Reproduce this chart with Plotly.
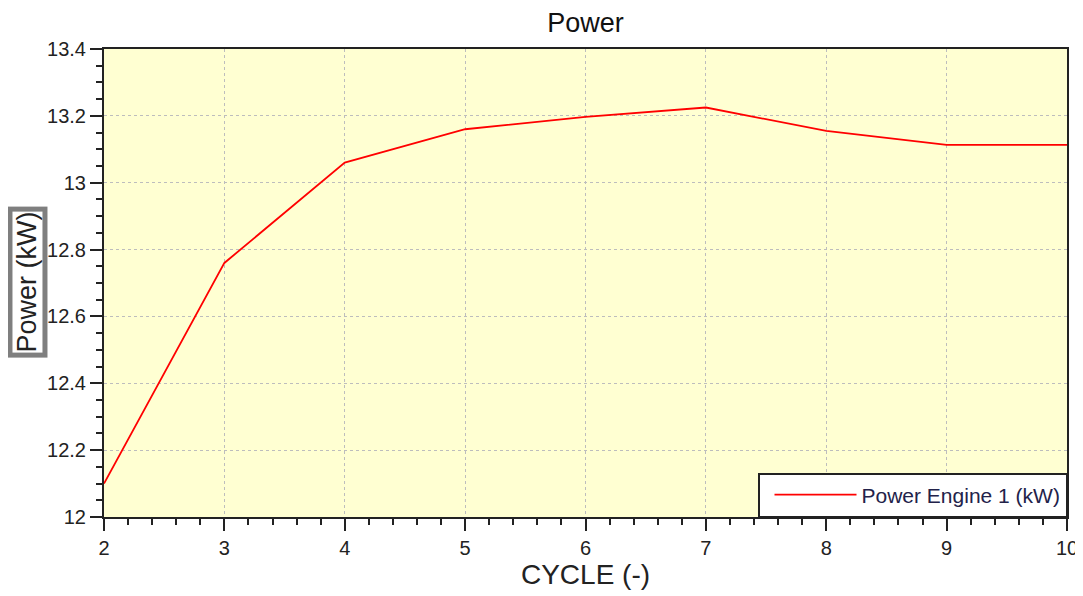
import plotly.graph_objects as go

cycles = [2, 3, 4, 5, 6, 7, 8, 9, 10]
power_kw = [12.10, 12.76, 13.06, 13.16, 13.197, 13.225, 13.155, 13.113, 13.113]
series_name = "Power Engine 1 (kW)"
x_ticks = [2, 3, 4, 5, 6, 7, 8, 9, 10]
y_ticks = [12, 12.2, 12.4, 12.6, 12.8, 13, 13.2, 13.4]
y_tick_text = ["12", "12.2", "12.4", "12.6", "12.8", "13", "13.2", "13.4"]

FONT = "Liberation Sans, Arial, sans-serif"

fig = go.Figure()
fig.add_trace(go.Scatter(
    x=cycles, y=power_kw, mode="lines", name=series_name,
    line=dict(color="#ff0000", width=1.8),
))

axis_common = dict(
    showline=True, linecolor="#222", linewidth=2, mirror=True,
    ticks="outside", ticklen=12, tickwidth=2, tickcolor="#222",
    showgrid=True, gridcolor="#bdbdbd", gridwidth=1, griddash="dot",
    zeroline=False,
    tickfont=dict(family=FONT, size=20, color="#222"),
)

fig.update_xaxes(
    range=[2, 10], tickvals=x_ticks,
    minor=dict(dtick=0.2, ticks="outside", ticklen=6, tickwidth=2, tickcolor="#222", showgrid=False),
    title=dict(text="CYCLE (-)", font=dict(family=FONT, size=28, color="#222"), standoff=6),
    **axis_common,
)
fig.update_yaxes(
    range=[12, 13.4], tickvals=y_ticks, ticktext=y_tick_text,
    minor=dict(dtick=0.05, ticks="outside", ticklen=6, tickwidth=2, tickcolor="#222", showgrid=False),
    **axis_common,
)

fig.add_annotation(
    text="Power (kW)", xref="paper", yref="paper", x=-0.0794, y=0.502,
    xanchor="center", yanchor="middle", textangle=-90, showarrow=False,
    font=dict(family=FONT, size=27, color="#222"),
    bordercolor="#7f7f7f", borderwidth=5, borderpad=0, bgcolor="white",
)

fig.update_layout(
    width=1083, height=596,
    margin=dict(l=96, r=24, t=41, b=87),
    paper_bgcolor="white", plot_bgcolor="#ffffd2",
    title=dict(text="Power", xref="paper", x=0.5, xanchor="center", y=0.976, yanchor="middle",
               font=dict(family=FONT, size=27, color="#111")),
    showlegend=True,
    legend=dict(
        x=1, y=0, xanchor="right", yanchor="bottom",
        bgcolor="white", bordercolor="#222", borderwidth=1.5,
        font=dict(family=FONT, size=21, color="#22224a"),
        itemwidth=82, indentation=10,
    ),
)

fig.write_html("out.html")
